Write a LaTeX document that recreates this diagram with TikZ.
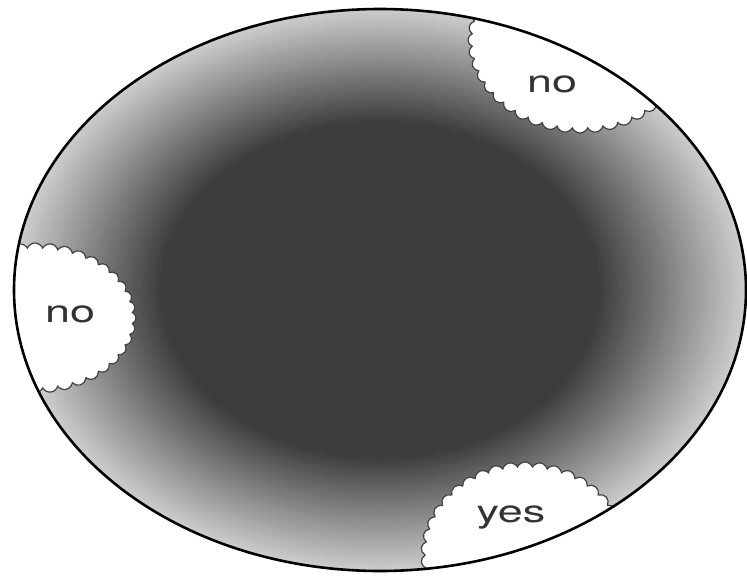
\documentclass[tikz,border=0pt]{standalone}
\usepackage{fontspec}
\setmainfont{TeX Gyre Heros}
\usetikzlibrary{shapes.symbols,shapes.geometric}
\begin{document}
\begin{tikzpicture}[x=1pt,y=-1pt,
  puff/.style={cloud, cloud puffs=#1, cloud puff arc=135, cloud ignores aspect,
    draw=black!75, line width=1.2pt, fill=white, inner sep=0pt},
  lbl/.style={anchor=base, text=black!80, font=\fontsize{31}{31}\selectfont,
    xscale=1.45, inner sep=0pt}]
\useasboundingbox (0,0) rectangle (747,576);
\fill[white] (0,0) rectangle (747,576);
% radial gradient of the big ellipse
\foreach \i in {0,...,60}{
  \pgfmathsetmacro\t{1-0.4*\i/60}
  \pgfmathsetmacro\k{20+56*\i/60}
  \fill[black!\k] (380,290) ellipse [x radius={366*\t}, y radius={281*\t}];
}
\begin{scope}
  \clip (380,290) ellipse [x radius=366, y radius=281];
  \node[puff=44, minimum width=224, minimum height=186] (c1) at (580,40) {};
  \node[puff=40, minimum width=202, minimum height=150] (c2) at (35,318) {};
  \node[puff=42, minimum width=208, minimum height=186] (c3) at (525,555) {};
\end{scope}
\node[draw=black, line width=2.6pt, ellipse, minimum width=732, minimum height=562, inner sep=0pt] (outer) at (380,290) {};
\node[lbl] (t1) at (552,92) {no};
\node[lbl] (t2) at (70,322) {no};
\node[lbl] (t3) at (511,522) {yes};
\end{tikzpicture}
\end{document}
